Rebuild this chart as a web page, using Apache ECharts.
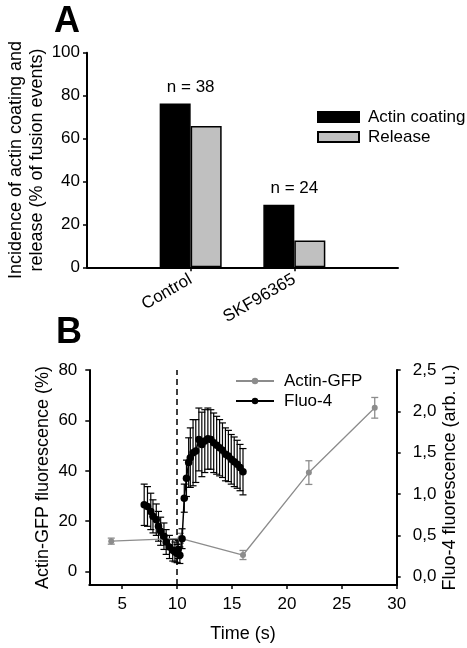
<!DOCTYPE html>
<html>
<head>
<meta charset="utf-8">
<script src="https://cdn.jsdelivr.net/npm/echarts@6/dist/echarts.min.js"></script>
<style>
html,body{margin:0;padding:0;background:#fff;}
#chart{width:467px;height:648px;}
</style>
</head>
<body>
<div id="chart"></div>
<script>
// ---------- Panel A data ----------
const categoriesA = ['', 'Control', 'SKF96365', ''];
const actinCoating = [null, 76.3, 29.2, null];
const releaseVals = [null, 65.8, 12.5, null];
const nLabels = ['', 'n = 38', 'n = 24', ''];

// ---------- Panel B data ----------
const xTicksB = [5, 10, 15, 20, 25, 30];
const leftTicksB = [0, 20, 40, 60, 80];
const rightTicksB = [0, 0.5, 1.0, 1.5, 2.0, 2.5];

const gfpTime = [4, 10.3, 16, 22, 28];
const gfpVal = [12.1, 13.2, 6.6, 39.3, 65.0];
const gfpErr = [1.2, 2.0, 1.8, 4.7, 4.1];

const fluoTime = [7.0, 7.3, 7.6, 7.8, 8.1, 8.3, 8.5, 8.8, 9.0, 9.3, 9.6, 9.8, 10.0, 10.1, 10.25,
  10.45, 10.65, 10.85, 11.05, 11.2, 11.45, 11.7, 11.98, 12.25, 12.52, 12.8, 13.07, 13.33, 13.6,
  13.87, 14.13, 14.4, 14.67, 14.93, 15.2, 15.47, 15.73, 16.0];
const fluoVal = [0.87, 0.85, 0.79, 0.73, 0.69, 0.61, 0.55, 0.49, 0.42, 0.36, 0.32, 0.30, 0.28, 0.33, 0.26,
  0.46, 0.95, 1.19, 1.38, 1.44, 1.50, 1.52, 1.66, 1.60, 1.64, 1.67, 1.66, 1.62, 1.59,
  1.56, 1.53, 1.48, 1.46, 1.42, 1.39, 1.36, 1.32, 1.27];
const fluoErr = [0.25, 0.24, 0.22, 0.20, 0.19, 0.18, 0.17, 0.16, 0.15, 0.14, 0.13, 0.12, 0.11, 0.11, 0.10,
  0.12, 0.17, 0.22, 0.30, 0.36, 0.40, 0.38, 0.38, 0.39, 0.38, 0.37, 0.36, 0.36, 0.35,
  0.34, 0.33, 0.32, 0.31, 0.30, 0.30, 0.29, 0.28, 0.28];

const FONT = '"Liberation Sans", Arial, sans-serif';
const GRAY = '#8c8c8c';

function errBars(times, vals, errs) {
  return times.map((t, i) => [t, vals[i], errs[i]]);
}
function makeRender(color, capHalf, lw) {
  return function (params, api) {
    const x = api.value(0), y = api.value(1), e = api.value(2);
    const top = api.coord([x, y + e]);
    const bot = api.coord([x, y - e]);
    const st = { stroke: color, lineWidth: lw };
    return {
      type: 'group',
      children: [
        { type: 'line', shape: { x1: top[0], y1: top[1], x2: bot[0], y2: bot[1] }, style: st },
        { type: 'line', shape: { x1: top[0] - capHalf, y1: top[1], x2: top[0] + capHalf, y2: top[1] }, style: st },
        { type: 'line', shape: { x1: bot[0] - capHalf, y1: bot[1], x2: bot[0] + capHalf, y2: bot[1] }, style: st }
      ]
    };
  };
}

const axisLineStyle = { color: '#000', width: 2 };
const tickStyle = { color: '#000', width: 1.5 };
const labelBase = { color: '#000', fontSize: 17, fontFamily: FONT };

const chart = echarts.init(document.getElementById('chart'), null, { renderer: 'canvas' });
const option = {
  animation: false,
  backgroundColor: '#fff',
  textStyle: { fontFamily: FONT, color: '#000' },
  graphic: [
    { type: 'text', left: 54, top: 4, style: { text: 'A', font: 'bold 36px ' + FONT, fill: '#000' } },
    { type: 'text', left: 56, top: 315, style: { text: 'B', font: 'bold 36px ' + FONT, fill: '#000' } }
  ],
  grid: [
    { left: 87, top: 52.7, width: 311, height: 214.6, outerBoundsMode: 'none', containLabel: false },
    { left: 89.3, top: 370, width: 307.4, height: 215, outerBoundsMode: 'none', containLabel: false }
  ],
  legend: [
    {
      data: ['Actin coating', 'Release'], orient: 'vertical', left: 317, top: 108.5, padding: 0,
      icon: 'rect', itemWidth: 41, itemHeight: 10, itemGap: 3,
      textStyle: { fontSize: 17, color: '#000', fontFamily: FONT, padding: [0, 0, 0, 4] }
    },
    {
      data: ['Actin-GFP', 'Fluo-4'], orient: 'vertical', left: 235, top: 372.5, padding: 0,
      itemWidth: 38, itemHeight: 8, itemGap: 3,
      textStyle: { fontSize: 17, color: '#000', fontFamily: FONT, padding: [0, 0, 0, 5] }
    }
  ],
  xAxis: [
    {
      gridIndex: 0, type: 'category', data: categoriesA, boundaryGap: false,
      axisLine: { show: true, lineStyle: axisLineStyle },
      axisTick: { show: true, interval: (i, v) => v !== '', length: 4, lineStyle: tickStyle },
      axisLabel: Object.assign({ rotate: 30, interval: 0, margin: 11 }, labelBase),
      splitLine: { show: false }
    },
    {
      gridIndex: 1, type: 'value', min: 2, max: 30,
      axisLine: { show: true, onZero: false, lineStyle: axisLineStyle },
      axisTick: { show: true, customValues: xTicksB, length: 4, lineStyle: tickStyle },
      axisLabel: Object.assign({ customValues: xTicksB, margin: 11 }, labelBase),
      splitLine: { show: false },
      name: 'Time (s)', nameLocation: 'middle', nameGap: 40, nameMoveOverlap: false,
      nameTextStyle: { fontSize: 18, color: '#000', fontFamily: FONT }
    }
  ],
  yAxis: [
    {
      gridIndex: 0, type: 'value', min: 0, max: 100, interval: 20,
      axisLine: { show: true, lineStyle: axisLineStyle },
      axisTick: { show: true, length: 4, lineStyle: tickStyle },
      axisLabel: Object.assign({ margin: 7 }, labelBase),
      splitLine: { show: false },
      name: 'Incidence of actin coating and\nrelease (% of fusion events)',
      nameLocation: 'middle', nameGap: 39.5, nameMoveOverlap: false,
      nameTextStyle: { fontSize: 18, lineHeight: 21, color: '#000', fontFamily: FONT }
    },
    {
      gridIndex: 1, type: 'value', min: -5.3, max: 80,
      axisLine: { show: true, onZero: false, lineStyle: axisLineStyle },
      axisTick: { show: true, customValues: leftTicksB, length: 4, lineStyle: tickStyle },
      axisLabel: Object.assign({ customValues: leftTicksB, margin: 12 }, labelBase),
      splitLine: { show: false },
      name: 'Actin-GFP fluorescence (%)', nameLocation: 'middle', nameGap: 37, nameMoveOverlap: false,
      nameTextStyle: { fontSize: 18, color: '#000', fontFamily: FONT }
    },
    {
      gridIndex: 1, type: 'value', min: -0.1, max: 2.5, position: 'right',
      axisLine: { show: true, onZero: false, lineStyle: axisLineStyle },
      axisTick: { show: true, customValues: rightTicksB, length: 4, lineStyle: tickStyle },
      axisLabel: Object.assign({
        customValues: rightTicksB, margin: 16,
        formatter: v => Number(v).toFixed(1).replace('.', ',')
      }, labelBase),
      splitLine: { show: false },
      name: 'Fluo-4 fluorescence (arb. u.)', nameLocation: 'middle', nameGap: 44, nameMoveOverlap: false,
      nameTextStyle: { fontSize: 18, color: '#000', fontFamily: FONT }
    }
  ],
  series: [
    {
      name: 'Actin coating', type: 'bar', xAxisIndex: 0, yAxisIndex: 0,
      data: actinCoating, barWidth: 31, barGap: '0%',
      itemStyle: { color: '#000', borderColor: '#000', borderWidth: 1.5 },
      label: {
        show: true, position: 'top', distance: 8, offset: [15.5, 0],
        formatter: p => nLabels[p.dataIndex], fontSize: 17, color: '#000', fontFamily: FONT
      }
    },
    {
      name: 'Release', type: 'bar', xAxisIndex: 0, yAxisIndex: 0,
      data: releaseVals, barWidth: 31, barGap: '0%',
      itemStyle: { color: '#c0c0c0', borderColor: '#000', borderWidth: 1.5 }
    },
    {
      name: 'Actin-GFP err', type: 'custom', xAxisIndex: 1, yAxisIndex: 1, z: 2,
      renderItem: makeRender(GRAY, 3.5, 1.3),
      data: errBars(gfpTime, gfpVal, gfpErr), silent: true
    },
    {
      name: 'Fluo-4 err', type: 'custom', xAxisIndex: 1, yAxisIndex: 2, z: 2,
      renderItem: makeRender('#000', 3.5, 1.2),
      data: errBars(fluoTime, fluoVal, fluoErr), silent: true
    },
    {
      name: 'Actin-GFP', type: 'line', xAxisIndex: 1, yAxisIndex: 1, z: 3,
      data: gfpTime.map((t, i) => [t, gfpVal[i]]),
      symbol: 'circle', symbolSize: 6, showAllSymbol: true,
      lineStyle: { color: GRAY, width: 1.3 }, itemStyle: { color: GRAY }
    },
    {
      name: 'Fluo-4', type: 'line', xAxisIndex: 1, yAxisIndex: 2, z: 4,
      data: fluoTime.map((t, i) => [t, fluoVal[i]]),
      symbol: 'circle', symbolSize: 7.5, showAllSymbol: true,
      lineStyle: { color: '#000', width: 1.5 }, itemStyle: { color: '#000' },
      markLine: {
        silent: true, symbol: ['none', 'none'], label: { show: false },
        lineStyle: { color: '#000', width: 1.5, type: [6, 4] },
        data: [{ xAxis: 10 }]
      }
    }
  ]
};
chart.setOption(option);
</script>
</body>
</html>
